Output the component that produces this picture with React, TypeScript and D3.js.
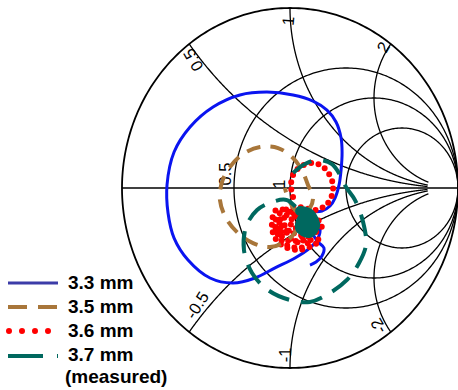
import { useEffect, useRef } from 'react';
import * as d3 from 'd3';

// Smith chart grid values
const resistances = [0.5, 1, 2];
const reactances = [0.5, 1, 2, -0.5, -1, -2];

const blueRe = [0.071, 0.131, 0.19, 0.238, 0.268, 0.292, 0.304, 0.31, 0.304, 0.274, 0.22, 0.137, 0.018, -0.137, -0.298, -0.458, -0.595, -0.69, -0.732, -0.726, -0.69, -0.607, -0.476, -0.339, -0.208, -0.089, 0.03, 0.119, 0.167, 0.179, 0.155, 0.119, 0.131, 0.167, 0.202, 0.19, 0.155, 0.119];
const blueIm = [-0.144, -0.133, -0.128, -0.1, -0.056, 0.017, 0.1, 0.2, 0.278, 0.367, 0.433, 0.483, 0.517, 0.533, 0.517, 0.45, 0.339, 0.2, 0.017, -0.139, -0.278, -0.4, -0.5, -0.528, -0.5, -0.444, -0.389, -0.333, -0.278, -0.222, -0.178, -0.189, -0.244, -0.3, -0.333, -0.378, -0.411, -0.428];

const brownRe = [0.048, -0.012, -0.119, -0.22, -0.31, -0.381, -0.417, -0.405, -0.357, -0.28, -0.179, -0.071, 0.012, 0.071, 0.107, 0.137, 0.119, 0.077, 0.03, -0.018, -0.03];
const brownIm = [-0.222, -0.289, -0.328, -0.306, -0.25, -0.167, -0.067, 0.033, 0.117, 0.189, 0.228, 0.222, 0.172, 0.1, 0.017, -0.05, -0.111, -0.144, -0.122, -0.039, 0.0];

const redRe = [0.018, 0.006, 0.018, 0.06, 0.131, 0.19, 0.232, 0.256, 0.25, 0.226, 0.19, 0.149, 0.089, 0.03, -0.03, -0.071, -0.089, -0.083, -0.06, -0.03, 0.012, 0.06, 0.095, 0.119, 0.06, 0.0, -0.048, -0.06, -0.018, 0.036, 0.083, 0.119, 0.155, 0.19, 0.149, 0.089, 0.03, -0.03, 0.0, 0.048, 0.077, 0.018, -0.042, -0.071, -0.018, 0.179, 0.131, 0.048, -0.042, -0.095, -0.107, -0.083, 0.0, 0.06, 0.012, -0.06];
const redIm = [-0.05, 0.006, 0.072, 0.117, 0.139, 0.122, 0.078, 0.017, -0.039, -0.083, -0.111, -0.122, -0.111, -0.106, -0.122, -0.15, -0.189, -0.233, -0.278, -0.311, -0.328, -0.333, -0.317, -0.278, -0.261, -0.244, -0.222, -0.178, -0.15, -0.144, -0.167, -0.206, -0.244, -0.211, -0.167, -0.189, -0.206, -0.2, -0.278, -0.3, -0.233, -0.178, -0.167, -0.233, -0.289, -0.289, -0.322, -0.344, -0.322, -0.267, -0.189, -0.122, -0.133, -0.2, -0.233, -0.244];

const tealRe = [0.018, 0.089, 0.167, 0.25, 0.298, 0.333, 0.387, 0.435, 0.452, 0.411, 0.339, 0.238, 0.119, 0.0, -0.131, -0.226, -0.274, -0.262, -0.196, -0.107, -0.018, 0.06];
const tealIm = [0.083, 0.133, 0.156, 0.133, 0.072, 0.006, -0.067, -0.189, -0.317, -0.417, -0.511, -0.583, -0.633, -0.622, -0.567, -0.472, -0.344, -0.217, -0.122, -0.078, -0.067, -0.133];
// dense measured points around the match
const tealCoreRe = [0.06, 0.119, 0.149, 0.113, 0.06, 0.083, 0.137, 0.119, 0.077, 0.1];
const tealCoreIm = [-0.128, -0.144, -0.211, -0.25, -0.222, -0.161, -0.178, -0.233, -0.2, -0.19];

const seriesNames = ['3.3 mm', '3.5 mm', '3.6 mm', '3.7 mm'];

const App = () => {
  const svgRef = useRef<SVGSVGElement>(null);

  useEffect(() => {
    const width = 458;
    const height = 390;
    const svg = d3.select(svgRef.current).attr('viewBox', [0, 0, width, height]);
    svg.selectAll('*').remove();

    // reflection plane -> pixels (the chart is slightly squeezed horizontally)
    const x = d3.scaleLinear().domain([-1, 1]).range([122, 458]);
    const y = d3.scaleLinear().domain([-1, 1]).range([368, 8]);

    const line = d3.line<[number, number]>().x((d) => x(d[0])).y((d) => y(d[1]));
    const smooth = d3
      .line<[number, number]>()
      .x((d) => x(d[0]))
      .y((d) => y(d[1]))
      .curve(d3.curveCatmullRom.alpha(0.5));

    // Grid
    const grid = svg.append('g').attr('fill', 'none').attr('stroke', '#000');
    const circle = (cx: number, rad: number) =>
      d3.range(0, 361).map((a) => [cx + rad * Math.cos((a * Math.PI) / 180), rad * Math.sin((a * Math.PI) / 180)] as [number, number]);

    grid.append('path').attr('d', line(circle(0, 1))).attr('stroke-width', 1.8);
    grid.append('path').attr('d', line([[-1, 0], [1, 0]])).attr('stroke-width', 1.4);

    resistances.forEach((r) => {
      grid
        .append('path')
        .attr('d', line(circle(r / (1 + r), 1 / (1 + r))))
        .attr('stroke-width', 1.3);
    });

    reactances.forEach((xv) => {
      const pts = d3.range(0, 401).map((i) => {
        const r = 10 * Math.pow(i / 400, 2);
        const den = (r + 1) * (r + 1) + xv * xv;
        return [(r * r - 1 + xv * xv) / den, (2 * xv) / den] as [number, number];
      });
      grid.append('path').attr('d', line(pts)).attr('stroke-width', 1.3);
    });

    // Grid labels
    const labels = [
      { t: '0.5', re: -0.577, im: 0.711, a: -120 },
      { t: '1', re: -0.012, im: 0.928, a: -85 },
      { t: '2', re: 0.554, im: 0.783, a: -60 },
      { t: '-0.5', re: -0.554, im: -0.65, a: -58 },
      { t: '-1', re: -0.03, im: -0.928, a: -90 },
      { t: '-2', re: 0.524, im: -0.767, a: -120 },
      { t: '0.5', re: -0.387, im: 0.078, a: -90 },
      { t: '1', re: -0.065, im: 0.022, a: -90 },
    ];
    svg
      .append('g')
      .attr('font-family', 'Liberation Sans, Arial, sans-serif')
      .attr('font-size', 16.5)
      .attr('text-anchor', 'middle')
      .selectAll('text')
      .data(labels)
      .join('text')
      .attr('dominant-baseline', 'central')
      .attr('transform', (d) => `translate(${x(d.re)},${y(d.im)}) rotate(${d.a})`)
      .text((d) => d.t);

    // Traces
    const traces = svg.append('g').attr('fill', 'none').attr('stroke-linejoin', 'round');

    traces
      .append('path')
      .attr('d', smooth(d3.zip(blueRe, blueIm) as [number, number][]))
      .attr('stroke', '#0a14f0')
      .attr('stroke-width', 3);

    traces
      .append('path')
      .attr('d', smooth(d3.zip(redRe, redIm) as [number, number][]))
      .attr('stroke', '#ff0000')
      .attr('stroke-width', 6)
      .attr('stroke-linecap', 'round')
      .attr('stroke-dasharray', '0 7.5');

    traces
      .append('path')
      .attr('d', smooth(d3.zip(brownRe, brownIm) as [number, number][]))
      .attr('stroke', '#a8763a')
      .attr('stroke-width', 4)
      .attr('stroke-dasharray', '14 10');

    traces
      .append('path')
      .attr('d', smooth(d3.zip(tealRe, tealIm) as [number, number][]))
      .attr('stroke', '#00685f')
      .attr('stroke-width', 4)
      .attr('stroke-dasharray', '22 12');

    traces
      .append('path')
      .attr('d', smooth(d3.zip(tealCoreRe, tealCoreIm) as [number, number][]))
      .attr('stroke', '#00685f')
      .attr('stroke-width', 10)
      .attr('stroke-linecap', 'round');

    // Legend
    const legend = svg.append('g');
    const rowY = [283, 307, 331, 356];
    const sample = [
      { stroke: '#3c3ca8', w: 3, dash: null, cap: 'butt' },
      { stroke: '#a8763a', w: 4, dash: '19 11', cap: 'butt' },
      { stroke: '#ff0000', w: 6, dash: '0 13', cap: 'round' },
      { stroke: '#00685f', w: 4, dash: '35 14 1.5 100', cap: 'butt' },
    ];
    sample.forEach((s, i) => {
      legend
        .append('line')
        .attr('x1', i === 2 ? 9 : 8)
        .attr('x2', 58)
        .attr('y1', rowY[i])
        .attr('y2', rowY[i])
        .attr('stroke', s.stroke)
        .attr('stroke-width', s.w)
        .attr('stroke-linecap', s.cap)
        .attr('stroke-dasharray', s.dash);
    });
    legend
      .attr('font-family', 'Liberation Sans, Arial, sans-serif')
      .attr('font-size', 19)
      .attr('font-weight', 'bold')
      .selectAll('text')
      .data(seriesNames)
      .join('text')
      .attr('x', 68)
      .attr('y', (d, i) => 289 + i * 24)
      .text((d) => d);
    legend.append('text').attr('x', 65).attr('y', 383).text('(measured)');
  }, []);

  return (
    <svg
      ref={svgRef}
      width={458}
      height={390}
      style={{ position: 'absolute', left: 0, top: 0, background: '#fff' }}
    ></svg>
  );
};

export default App;
